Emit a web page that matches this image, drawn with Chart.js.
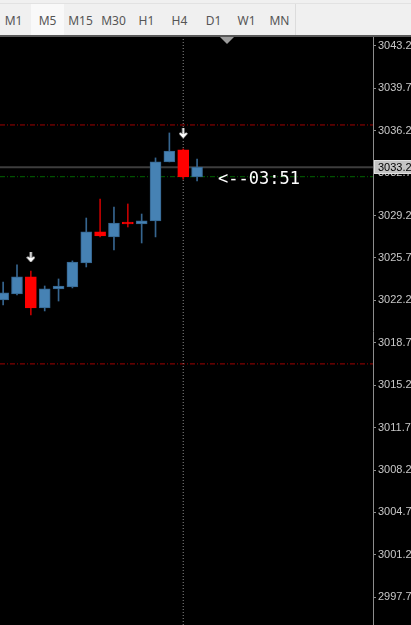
<!DOCTYPE html>
<html>
<head>
<meta charset="utf-8">
<script src="https://cdn.jsdelivr.net/npm/chart.js@4.4.1/dist/chart.umd.min.js"></script>
<style>
  body { margin: 0; width: 411px; height: 625px; overflow: hidden; background: #000; }
  #toolbar { position: absolute; left: 0; top: 0; width: 411px; height: 35px; background: #f0f0f0; border-bottom: 2px solid #5a5a5a; font-family: "Noto Sans", sans-serif; }
  #toolbar .strip { position: absolute; left: 0; top: 3px; width: 411px; height: 1px; background: #e2e2e2; }
  #toolbar .tf { position: absolute; top: 4px; width: 33px; height: 31px; line-height: 33px; font-size: 12px; color: #555; text-align: center; }
  #toolbar .tf.active { background: #f9f9f9; }
  #toolbar .sep { position: absolute; left: 295px; top: 4px; width: 1px; height: 31px; background: #dcdcdc; }
  #wrap { position: absolute; left: 0; top: 37px; width: 411px; height: 588px; }
  #shift { position: absolute; left: 220px; top: 37px; width: 0; height: 0; border-left: 7px solid transparent; border-right: 7px solid transparent; border-top: 7px solid #9c9c9c; }
</style>
</head>
<body>
<div id="toolbar"><div class="strip"></div><div class="sep"></div></div>
<div id="wrap"><canvas id="chart" width="411" height="588"></canvas></div>
<div id="shift"></div>
<script>
const timeframes = ["M1", "M5", "M15", "M30", "H1", "H4", "D1", "W1", "MN"];
const activeFrame = "M5";

const opens  = [3022.24, 3022.73, 3024.14, 3021.58, 3023.15, 3023.31, 3025.29, 3027.85, 3027.44, 3028.67, 3028.51, 3028.76, 3033.63, 3034.62, 3032.39];
const highs  = [3023.72, 3025.13, 3024.63, 3023.39, 3023.97, 3025.46, 3029.00, 3030.57, 3029.91, 3030.16, 3029.33, 3033.96, 3036.02, 3034.70, 3033.87];
const lows   = [3021.82, 3022.65, 3021.00, 3021.33, 3022.15, 3023.23, 3024.96, 3027.44, 3026.36, 3028.26, 3026.94, 3027.44, 3033.63, 3032.20, 3032.06];
const closes = [3022.82, 3024.14, 3021.58, 3023.15, 3023.39, 3025.37, 3027.85, 3027.52, 3028.59, 3028.51, 3028.76, 3033.63, 3034.53, 3032.39, 3033.20];

const arrowIndex = [2, 13];
const arrowPrice = [3025.79, 3036.02];

const redLevels = [3036.68, 3016.96];
const greenLevel = 3032.41;
const bidPrice = 3033.2;
const cursorIndex = 13;
const timerText = "<--03:51";

const tickValues = [3043.2, 3039.7, 3036.2, 3032.7, 3029.2, 3025.7, 3022.2, 3018.7, 3015.2, 3011.7, 3008.2, 3004.7, 3001.2, 2997.7];

const xMin = -0.227;
const xMax = 26.7;
const yMin = 2995.41;
const yMax = 3043.94;

const toolbar = document.getElementById("toolbar");
const centers = [13, 47, 80, 113, 146, 179, 213, 246, 279];
timeframes.forEach((tf, i) => {
  const el = document.createElement("div");
  el.className = "tf" + (tf === activeFrame ? " active" : "");
  el.style.left = centers[i] - 16 + "px";
  el.textContent = tf;
  toolbar.appendChild(el);
});

const isUp = opens.map((o, i) => closes[i] >= o);
const bodyColors = isUp.map((up) => (up ? "#4682b4" : "#ff0000"));
const bodyBorders = isUp.map((up) => (up ? "#35648e" : "#ff0000"));
const wickColors = isUp.map((up) => (up ? "#36658f" : "#c00000"));

const arrowImg = document.createElement("canvas");
arrowImg.width = 9;
arrowImg.height = 10;
(() => {
  const c = arrowImg.getContext("2d");
  c.strokeStyle = "#ffffff";
  c.lineWidth = 2;
  c.beginPath();
  c.moveTo(4.5, 0);
  c.lineTo(4.5, 9);
  c.moveTo(1, 5);
  c.lineTo(4.5, 9);
  c.lineTo(8, 5);
  c.stroke();
})();

const hLine = (y, color, width, dash) => ({
  type: "line",
  data: [{ x: xMin, y: y }, { x: xMax, y: y }],
  borderColor: color,
  borderWidth: width,
  borderDash: dash,
  pointRadius: 0,
  order: 5,
});

const overlayPlugin = {
  id: "overlay",
  afterDatasetsDraw(chart) {
    const ctx = chart.ctx;
    const xs = chart.scales.x;
    const ys = chart.scales.y;
    const last = closes.length - 1;
    ctx.save();
    ctx.fillStyle = "#ffffff";
    ctx.font = "17px 'DejaVu Sans Mono'";
    ctx.textBaseline = "middle";
    ctx.textAlign = "left";
    ctx.fillText(timerText, xs.getPixelForValue(last) + 21, ys.getPixelForValue(closes[last]) + 12);
    ctx.restore();
  },
  afterDraw(chart) {
    const ctx = chart.ctx;
    const ys = chart.scales.y;
    const y = Math.round(ys.getPixelForValue(bidPrice));
    const left = chart.chartArea.right + 1;
    ctx.save();
    ctx.fillStyle = "#c4c4c4";
    ctx.fillRect(left, y - 7, 411 - left, 14);
    ctx.strokeStyle = "#e0e0e0";
    ctx.lineWidth = 1;
    ctx.strokeRect(left + 0.5, y - 6.5, 411 - left, 13);
    ctx.fillStyle = "#000000";
    ctx.font = "11px 'Liberation Sans'";
    ctx.textBaseline = "middle";
    ctx.fillText(bidPrice.toFixed(1), left + 4, y + 0.5);
    ctx.restore();
  },
};

new Chart(document.getElementById("chart"), {
  type: "bar",
  data: {
    datasets: [
      hLine(redLevels[0], "#a00000", 1, [5, 2, 1, 2]),
      hLine(redLevels[1], "#a00000", 1, [5, 2, 1, 2]),
      hLine(greenLevel, "#006400", 1, [5, 2, 1, 2]),
      hLine(bidPrice, "#3d3d3d", 2, []),
      {
        type: "line",
        data: [{ x: cursorIndex, y: yMin }, { x: cursorIndex, y: yMax }],
        borderColor: "#8a8a8a",
        borderWidth: 1,
        borderDash: [1, 2],
        pointRadius: 0,
        order: 4,
      },
      {
        data: closes.map((c, i) => ({ x: i, y: [lows[i], highs[i]] })),
        backgroundColor: wickColors,
        barThickness: 1,
        grouped: false,
        order: 3,
      },
      {
        data: closes.map((c, i) => ({ x: i, y: [opens[i], c] })),
        backgroundColor: bodyColors,
        borderColor: bodyBorders,
        borderWidth: 1,
        borderSkipped: false,
        barThickness: 11,
        grouped: false,
        order: 2,
      },
      {
        type: "scatter",
        data: arrowIndex.map((x, i) => ({ x: x, y: arrowPrice[i] })),
        pointStyle: arrowImg,
        pointRadius: 5,
        order: 1,
      },
    ],
  },
  options: {
    responsive: false,
    animation: false,
    devicePixelRatio: 1,
    layout: { padding: 0, autoPadding: false },
    plugins: { legend: { display: false }, tooltip: { enabled: false } },
    scales: {
      x: {
        type: "linear",
        min: xMin,
        max: xMax,
        offset: false,
        display: false,
      },
      y: {
        position: "right",
        min: yMin,
        max: yMax,
        afterBuildTicks: (scale) => {
          scale.ticks = tickValues.map((v) => ({ value: v }));
        },
        afterFit: (scale) => {
          scale.width = 38;
          scale.paddingTop = 0;
          scale.paddingBottom = 0;
        },
        border: { display: true, color: "#8c8c8c", width: 1 },
        grid: { drawOnChartArea: false, color: "#8c8c8c", tickLength: 3 },
        ticks: {
          padding: 2,
          color: "#c8c8c8",
          font: { family: "Liberation Sans", size: 11 },
          callback: (v) => v.toFixed(1),
        },
      },
    },
  },
  plugins: [overlayPlugin],
});
</script>
</body>
</html>
